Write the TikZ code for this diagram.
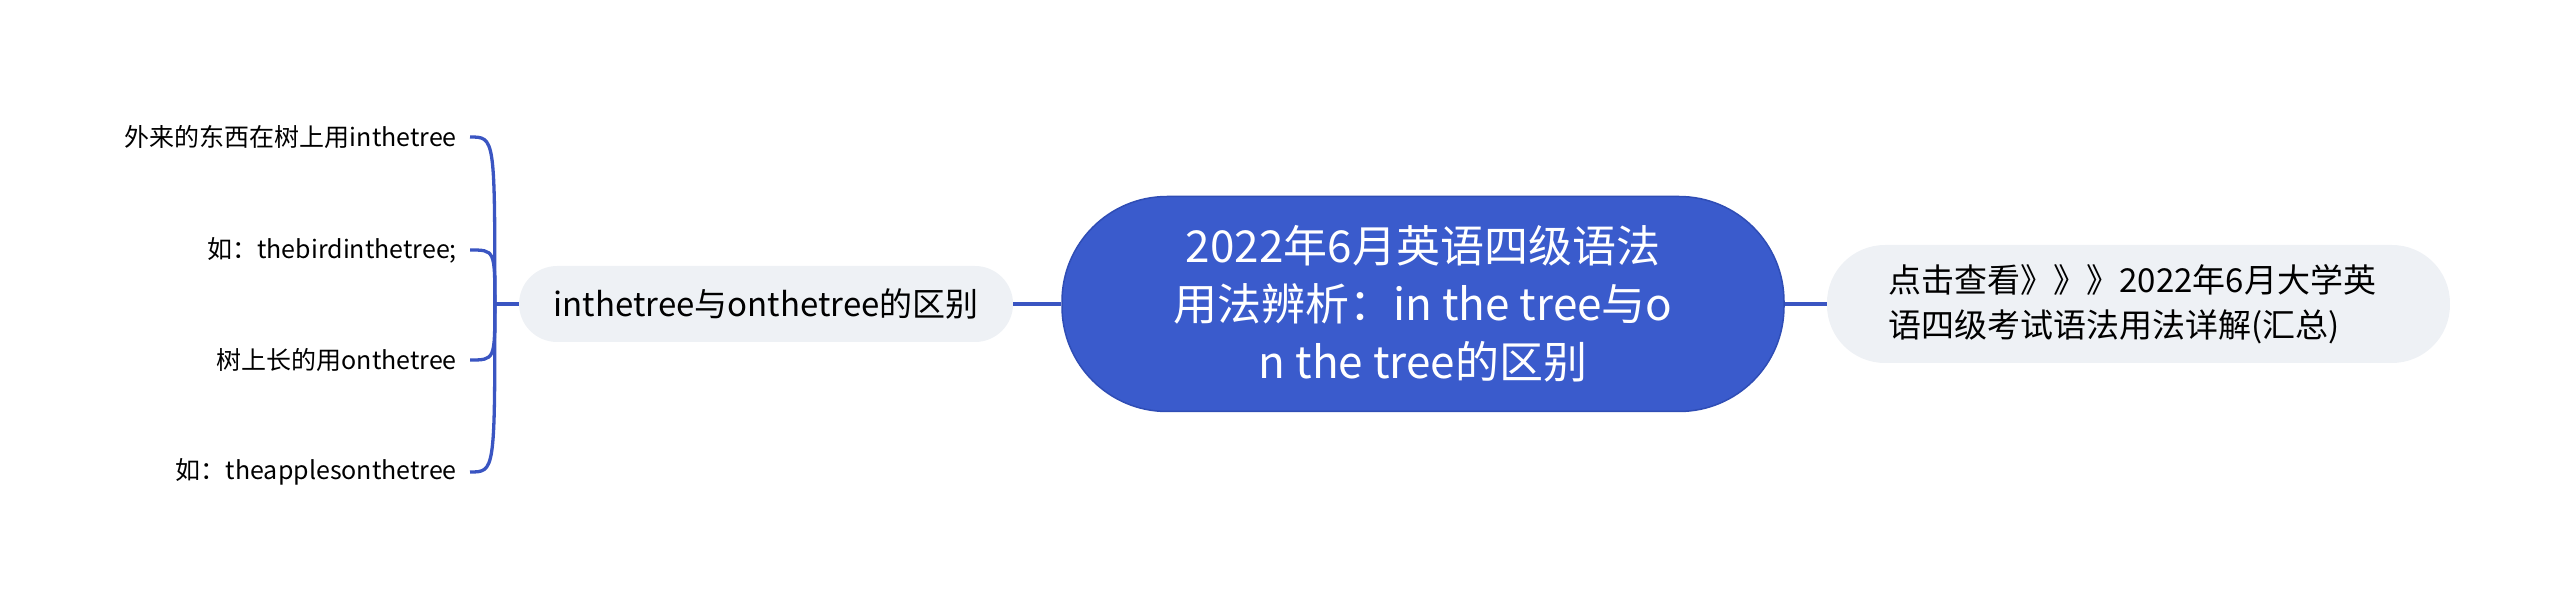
\documentclass[tikz,border=0pt]{standalone}
\usepackage{fontspec}
\setmainfont{Noto Sans CJK SC}
\usetikzlibrary{positioning}
\definecolor{rootblue}{HTML}{3A5BCC}
\definecolor{rootedge}{HTML}{2F4DB5}
\definecolor{subgray}{HTML}{EEF1F5}
\definecolor{linkblue}{HTML}{3A55C2}
\tikzset{
  rt/.style={rectangle, rounded corners=105pt, minimum width=722pt, minimum height=215pt, align=center, draw=rootedge, line width=1.5pt, fill=rootblue, text=white, font=\fontsize{44}{58}\selectfont},
  sb/.style={rectangle, rounded corners=38pt, minimum width=494pt, minimum height=76pt, text centered, fill=subgray, font=\fontsize{33}{45}\selectfont},
  sr/.style={rectangle, rounded corners=58pt, minimum width=623pt, minimum height=118pt, text width=500pt, align=left, fill=subgray, font=\fontsize{33}{45}\selectfont},
  lf/.style={anchor=east, inner xsep=13pt, font=\fontsize{25}{30}\selectfont},
  ln/.style={draw=linkblue, line width=3.3pt},
  node distance=48pt
}

\begin{document}
\begin{tikzpicture}[x=1pt,y=-1pt]
	\useasboundingbox (0,0) rectangle (2560,609);
	\node[rt] (root) at (1423,304) {2022年6月英语四级语法\\用法辨析：in the tree与o\\n the tree的区别};
	\node[sb, left=of root] (diff) {inthetree与onthetree的区别};
	\node[sr, right=42pt of root] (more) {点击查看》》》2022年6月大学英\\语四级考试语法用法详解(汇总)};
	
	\node[lf] (outer) at (470,137) {外来的东西在树上用inthetree};
	\node[lf] (bird) at (470,250) {如：thebirdinthetree;};
	\node[lf] (grown) at (470,360) {树上长的用onthetree};
	\node[lf] (apple) at (470,472) {如：theapplesonthetree};
	
	%
	\draw[ln] (root) -- (diff);
	\draw[ln] (root) -- (more);
	\draw[ln] (diff.west) -- ++(-24,0) coordinate (trunk);
	\foreach \leaf in {outer,bird,grown,apple}
		\draw[ln] (trunk) .. controls (trunk |- \leaf.east) .. (\leaf.east);
\end{tikzpicture}
\end{document}
